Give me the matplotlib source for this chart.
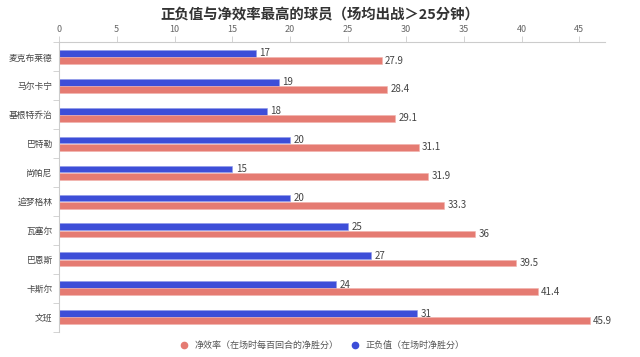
import matplotlib
matplotlib.use('Agg')
import matplotlib.pyplot as plt
from matplotlib.lines import Line2D
import numpy as np

plt.rcParams['font.family'] = ['Noto Sans CJK SC', 'DejaVu Sans']

players = ['麦克布莱德', '马尔卡宁', '基根特乔治', '巴特勒', '尚帕尼',
           '追梦格林', '瓦塞尔', '巴恩斯', '卡斯尔', '文班']
plus_minus = [17, 19, 18, 20, 15, 20, 25, 27, 24, 31]
net_rating = [27.9, 28.4, 29.1, 31.1, 31.9, 33.3, 36, 39.5, 41.4, 45.9]
x_ticks = [0, 5, 10, 15, 20, 25, 30, 35, 40, 45]

blue = '#3d4ed8'
red = '#e57b72'
grey = '#666666'

fig = plt.figure(figsize=(6.4, 3.57), dpi=100)
ax = fig.add_axes([0.092, 0.071, 0.853, 0.81])

y = np.arange(len(players))
h = 0.235
ax.barh(y - 0.125, plus_minus, height=h, color=blue, edgecolor='#8f99e8', linewidth=0.4)
ax.barh(y + 0.125, net_rating, height=h, color=red, edgecolor='#f2b3ad', linewidth=0.4)

for yi, v in zip(y, plus_minus):
    ax.text(v + 0.3, yi - 0.125, f'{v:g}', va='center', ha='left', fontsize=7, color='#444444')
for yi, v in zip(y, net_rating):
    ax.text(v + 0.3, yi + 0.125, f'{v:g}', va='center', ha='left', fontsize=7, color='#444444')

ax.set_xlim(0, 47.2)
ax.set_ylim(len(players) - 0.5, -0.5)
ax.xaxis.tick_top()
ax.set_xticks(x_ticks)
ax.tick_params(axis='x', labelsize=6.5, colors='#cccccc', labelcolor=grey,
               length=4, width=0.6, pad=2, direction='out')
ax.set_yticks(y)
ax.set_yticklabels(players, fontsize=6.3, color='#444444')
ax.set_yticks(np.arange(len(players) + 1) - 0.5, minor=True)
ax.tick_params(axis='y', which='major', length=0, pad=4.5)
ax.tick_params(axis='y', which='minor', length=4, width=0.6, color='#cccccc')

for s in ['right', 'bottom']:
    ax.spines[s].set_visible(False)
for s in ['top', 'left']:
    ax.spines[s].set_color('#cccccc')
    ax.spines[s].set_linewidth(0.8)

fig.text(0.5, 0.957, '正负值与净效率最高的球员（场均出战＞25分钟）', ha='center', va='center',
         fontsize=10.4, fontweight='bold', color='#333333')

handles = [Line2D([0], [0], marker='o', linestyle='', color=red, markersize=4.5),
           Line2D([0], [0], marker='o', linestyle='', color=blue, markersize=4.5)]
labels = ['净效率（在场时每百回合的净胜分）', '正负值（在场时净胜分）']
fig.legend(handles, labels, loc='center', bbox_to_anchor=(0.5, 0.032), ncol=2, frameon=False,
           fontsize=6.5, labelcolor='#555555', handletextpad=0.2, columnspacing=0.8)

fig.savefig('out.png', dpi=100)
